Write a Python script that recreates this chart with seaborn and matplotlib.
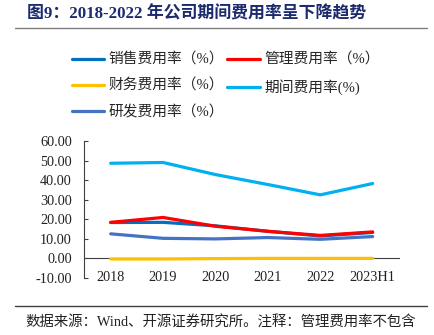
import matplotlib
matplotlib.use("Agg")
import matplotlib.pyplot as plt
from matplotlib.ticker import FixedLocator
import seaborn as sns
import pandas as pd

# Expense ratios (%) by period
years = ["2018", "2019", "2020", "2021", "2022", "2023H1"]
sales_ratio = [18.2, 18.3, 16.5, 13.7, 11.3, 13.1]
admin_ratio = [18.3, 20.8, 16.3, 13.7, 11.6, 13.4]
finance_ratio = [-0.5, -0.5, -0.3, -0.2, -0.2, -0.2]
period_ratio = [48.6, 49.0, 42.8, 37.7, 32.4, 38.2]
rnd_ratio = [12.4, 10.1, 9.8, 10.5, 9.6, 11.0]

labels = ["销售费用率（%）", "管理费用率（%）", "财务费用率（%）", "期间费用率(%)", "研发费用率（%）"]
colors = ["#0070C0", "#FF0000", "#FFC000", "#00B0F0", "#4472C4"]
y_ticks = [-10, 0, 10, 20, 30, 40, 50, 60]

series = [sales_ratio, admin_ratio, finance_ratio, period_ratio, rnd_ratio]
df = pd.DataFrame(
    [(y, v, lab) for lab, vals in zip(labels, series) for y, v in zip(years, vals)],
    columns=["year", "value", "series"],
)

sns.set_theme(style="white")
plt.rcParams["font.family"] = ["Liberation Serif", "Noto Sans CJK SC"]
plt.rcParams["axes.unicode_minus"] = False

fig = plt.figure(figsize=(4.34, 3.35), dpi=100)
ax = fig.add_axes([0.1947, 0.1716, 0.919 - 0.1947, 0.579 - 0.1716])

sns.lineplot(
    data=df, x="year", y="value", hue="series", hue_order=labels,
    palette=dict(zip(labels, colors)), sort=False, linewidth=2.3,
    ax=ax, legend=True, zorder=3,
)
handles, hlabels = ax.get_legend_handles_labels()
ax.get_legend().remove()

ax.set_xlim(-0.5, len(years) - 0.5)
ax.set_ylim(-10, 60)
ax.set_yticks(y_ticks)
ax.set_yticklabels([f"{t:.2f}" for t in y_ticks])
ax.set_xlabel("")
ax.set_ylabel("")

axis_col = "#404040"
for s in ["top", "right"]:
    ax.spines[s].set_visible(False)
ax.spines["left"].set_color(axis_col)
ax.spines["left"].set_linewidth(0.8)
ax.spines["bottom"].set_position(("data", 0))
ax.spines["bottom"].set_color(axis_col)
ax.spines["bottom"].set_linewidth(0.8)

ax.xaxis.set_minor_locator(FixedLocator([i - 0.5 for i in range(len(years) + 1)]))
ax.tick_params(axis="x", which="major", length=0, pad=9, labelsize=10.3, colors="#222222")
ax.tick_params(axis="x", which="minor", direction="in", length=4, width=0.8, color=axis_col)
ax.tick_params(axis="y", which="major", direction="in", length=3, width=0.8, color=axis_col,
               pad=9, labelsize=10.3, labelcolor="#222222", left=True)

# Title and rule
fig.text(27 / 434, 1 - 14 / 335, "图9：2018-2022 年公司期间费用率呈下降趋势",
         ha="left", va="center", fontsize=12.2, fontweight="bold", color="#1C2B6E")
fig.add_artist(plt.Line2D([15 / 434, 427 / 434], [1 - 28 / 335] * 2,
                          transform=fig.transFigure, color="#7F7F7F", linewidth=1))

# Legend: two columns, filled row by row
order = [0, 2, 4, 1, 3]
fig.legend([handles[i] for i in order], [hlabels[i] for i in order],
           ncol=2, loc="upper left", bbox_to_anchor=(72 / 434, 1 - 53 / 335),
           frameon=False, fontsize=10.6, handlelength=2.2, handletextpad=0.3,
           columnspacing=0.2, labelspacing=0.82, borderaxespad=0, borderpad=0)

# Footer rule and source note
fig.add_artist(plt.Line2D([15 / 434, 427 / 434], [1 - 305.7 / 335] * 2,
                          transform=fig.transFigure, color="#404040", linewidth=1))
fig.text(25 / 434, 1 - 321.7 / 335, "数据来源：Wind、开源证券研究所。注释：管理费用率不包含",
         ha="left", va="center", fontsize=10.4, color="#222222")

fig.savefig("out.png", dpi=100)
